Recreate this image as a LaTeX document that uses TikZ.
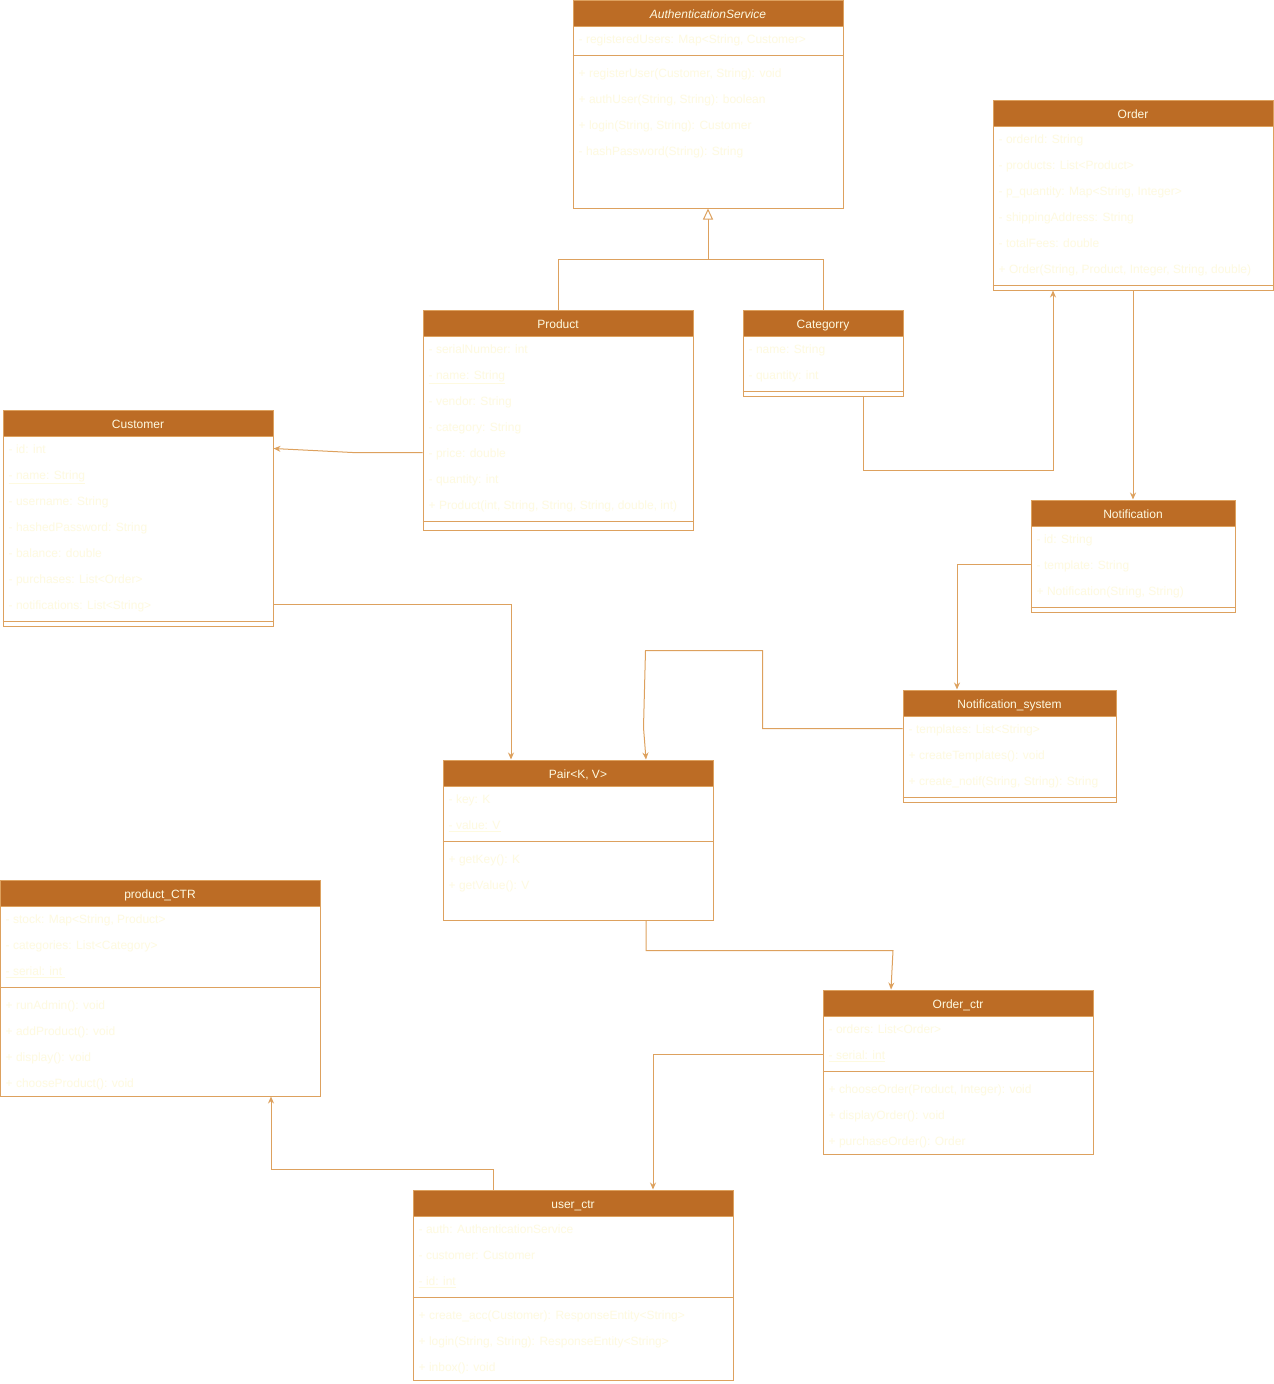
\documentclass[tikz,border=0pt]{standalone}
\usepackage{fontspec}
\setmainfont{Liberation Sans}
\usetikzlibrary{arrows.meta,positioning,calc}
\definecolor{umlhead}{HTML}{BC6C25}
\definecolor{umlline}{HTML}{DDA15E}
\definecolor{umltext}{HTML}{FEFAE0}

\begin{document}
\begin{tikzpicture}[x=1pt, y=-1pt,
    cls/.style={draw=umlline, fill=white, line width=1pt, inner sep=0pt},
    hdr/.style={draw=umlline, fill=umlhead, line width=1pt, minimum height=26pt, inner sep=0pt, anchor=north, text=umltext, text height=11pt, text depth=1pt, font=\fontsize{12}{14}\selectfont},
    row/.style={anchor=west, inner sep=0pt, text=umltext, text height=11pt, text depth=1pt, font=\fontsize{12}{14}\selectfont},
    sep/.style={draw=umlline, line width=1pt},
    arr/.style={draw=umlline, line width=1pt, -{Stealth[length=7pt,width=6pt]}},
    gen/.style={draw=umlline, line width=1pt, -{Triangle[open,length=11pt,width=10pt,fill=white]}}
]
\useasboundingbox (0,0) rectangle (1274,1384);

% AuthenticationService
\node[cls, minimum width=270pt, minimum height=208pt] (auth) at (708,104) {};
\node[hdr, minimum width=270pt] (auth-h) at (auth.north) {\textit{AuthenticationService}};
\node[row] (auth-1) at ([xshift=6pt,yshift=-39pt]auth.north west) {- registeredUsers: Map<String, Customer>};
\draw[sep] ([yshift=-56pt]auth.north west) -- ([yshift=-56pt]auth.north east);
\foreach \t [count=\i] in {{+ registerUser(Customer, String): void},{+ authUser(String, String): boolean},{+ login(String, String): Customer},{- hashPassword(String): String}}
  \node[row] (auth-m\i) at ([xshift=6pt,yshift=-47pt-\i*26pt]auth.north west) {\t};

% Order
\node[cls, minimum width=280pt, minimum height=190pt] (ord) at (1133,195) {};
\node[hdr, minimum width=280pt] (ord-h) at (ord.north) {Order};
\foreach \t [count=\i] in {{- orderId: String},{- products: List<Product>},{- p\_quantity: Map<String, Integer>},{- shippingAddress: String},{- totalFees: double},{+ Order(String, Product, Integer, String, double)}}
  \node[row] (ord-\i) at ([xshift=6pt,yshift=-13pt-\i*26pt]ord.north west) {\t};
\draw[sep] ([yshift=-186pt]ord.north west) -- ([yshift=-186pt]ord.north east);

% Product
\node[cls, minimum width=270pt, minimum height=220pt] (prod) at (558,420) {};
\node[hdr, minimum width=270pt] (prod-h) at (prod.north) {Product};
\foreach \t [count=\i] in {{- serialNumber: int},{\underline{- name: String}},{- vendor: String},{- category: String},{- price: double},{- quantity: int},{+ Product(int, String, String, String, double, int)}}
  \node[row] (prod-\i) at ([xshift=6pt,yshift=-13pt-\i*26pt]prod.north west) {\t};
\draw[sep] ([yshift=-212pt]prod.north west) -- ([yshift=-212pt]prod.north east);

% Categorry
\node[cls, minimum width=160pt, minimum height=86pt] (cat) at (823,353) {};
\node[hdr, minimum width=160pt] (cat-h) at (cat.north) {Categorry};
\foreach \t [count=\i] in {{- name: String},{- quantity: int}}
  \node[row] (cat-\i) at ([xshift=6pt,yshift=-13pt-\i*26pt]cat.north west) {\t};
\draw[sep] ([yshift=-82pt]cat.north west) -- ([yshift=-82pt]cat.north east);

% Customer
\node[cls, minimum width=270pt, minimum height=216pt] (cust) at (138,518) {};
\node[hdr, minimum width=270pt] (cust-h) at (cust.north) {Customer};
\foreach \t [count=\i] in {{- id: int},{\underline{- name: String}},{- username: String},{- hashedPassword: String},{- balance: double},{- purchases: List<Order>},{- notifications: List<String>}}
  \node[row] (cust-\i) at ([xshift=6pt,yshift=-13pt-\i*26pt]cust.north west) {\t};
\draw[sep] ([yshift=-212pt]cust.north west) -- ([yshift=-212pt]cust.north east);

% Notification
\node[cls, minimum width=204pt, minimum height=112pt] (notif) at (1133,556) {};
\node[hdr, minimum width=204pt] (notif-h) at (notif.north) {Notification};
\foreach \t [count=\i] in {{- id: String},{- template: String},{+ Notification(String, String)}}
  \node[row] (notif-\i) at ([xshift=6pt,yshift=-13pt-\i*26pt]notif.north west) {\t};
\draw[sep] ([yshift=-108pt]notif.north west) -- ([yshift=-108pt]notif.north east);

% Notification_system
\node[cls, minimum width=213pt, minimum height=112pt] (nsys) at (1009.5,746) {};
\node[hdr, minimum width=213pt] (nsys-h) at (nsys.north) {Notification\_system};
\foreach \t [count=\i] in {{- templates: List<String>},{+ createTemplates(): void},{+ create\_notif(String, String): String}}
  \node[row] (nsys-\i) at ([xshift=6pt,yshift=-13pt-\i*26pt]nsys.north west) {\t};
\draw[sep] ([yshift=-108pt]nsys.north west) -- ([yshift=-108pt]nsys.north east);

% Pair<K, V>
\node[cls, minimum width=270pt, minimum height=160pt] (pair) at (578,840) {};
\node[hdr, minimum width=270pt] (pair-h) at (pair.north) {Pair<K, V>};
\foreach \t [count=\i] in {{- key: K},{\underline{- value: V}}}
  \node[row] (pair-\i) at ([xshift=6pt,yshift=-13pt-\i*26pt]pair.north west) {\t};
\draw[sep] ([yshift=-82pt]pair.north west) -- ([yshift=-82pt]pair.north east);
\foreach \t [count=\i] in {{+ getKey(): K},{+ getValue(): V}}
  \node[row] (pair-m\i) at ([xshift=6pt,yshift=-73pt-\i*26pt]pair.north west) {\t};

% product_CTR
\node[cls, minimum width=320pt, minimum height=216pt] (pctr) at (160,988) {};
\node[hdr, minimum width=320pt] (pctr-h) at (pctr.north) {product\_CTR};
\foreach \t [count=\i] in {{- stock: Map<String, Product>},{- categories: List<Category>},{\underline{- serial: int\ }}}
  \node[row] (pctr-\i) at ([xshift=6pt,yshift=-13pt-\i*26pt]pctr.north west) {\t};
\draw[sep] ([yshift=-108pt]pctr.north west) -- ([yshift=-108pt]pctr.north east);
\foreach \t [count=\i] in {{+ runAdmin(): void},{+ addProduct(): void},{+ display(): void},{+ chooseProduct(): void}}
  \node[row] (pctr-m\i) at ([xshift=6pt,yshift=-99pt-\i*26pt]pctr.north west) {\t};

% Order_ctr
\node[cls, minimum width=270pt, minimum height=164pt] (octr) at (958,1072) {};
\node[hdr, minimum width=270pt] (octr-h) at (octr.north) {Order\_ctr};
\foreach \t [count=\i] in {{- orders: List<Order>},{\underline{- serial: int}}}
  \node[row] (octr-\i) at ([xshift=6pt,yshift=-13pt-\i*26pt]octr.north west) {\t};
\draw[sep] ([yshift=-82pt]octr.north west) -- ([yshift=-82pt]octr.north east);
\foreach \t [count=\i] in {{+ chooseOrder(Product, Integer): void},{+ displayOrder(): void},{+ purchaseOrder(): Order}}
  \node[row] (octr-m\i) at ([xshift=6pt,yshift=-73pt-\i*26pt]octr.north west) {\t};

% user_ctr
\node[cls, minimum width=320pt, minimum height=190pt] (uctr) at (573,1285) {};
\node[hdr, minimum width=320pt] (uctr-h) at (uctr.north) {user\_ctr};
\foreach \t [count=\i] in {{- auth: AuthenticationService},{- customer: Customer},{\underline{- id: int}}}
  \node[row] (uctr-\i) at ([xshift=6pt,yshift=-13pt-\i*26pt]uctr.north west) {\t};
\draw[sep] ([yshift=-108pt]uctr.north west) -- ([yshift=-108pt]uctr.north east);
\foreach \t [count=\i] in {{+ create\_acc(Customer): ResponseEntity<String>},{+ login(String, String): ResponseEntity<String>},{+ inbox(): void}}
  \node[row] (uctr-m\i) at ([xshift=6pt,yshift=-99pt-\i*26pt]uctr.north west) {\t};

% connectors
\coordinate (genjoin) at (708,259);
\draw[gen] (prod.north) |- (genjoin) -- (auth.south);
\draw[sep] (cat.north) |- (genjoin);
\draw[arr] (prod.west |- prod-5) -- ++(-70,0) -- (cust.east |- cust-1);
\draw[arr] ([xshift=40pt]cat.south) -- ++(0,74) -| ([xshift=-80pt]ord.south);
\draw[arr] (ord.south) -- (notif.north);
\draw[arr] (notif.west |- notif-2) -| ([xshift=-52.5pt]nsys.north);
\draw[arr] (nsys.west |- nsys-1) -- ++(-140,0) -- ++(0,-78) -- ++(-117,0) -- ++(-2,77) -- ([xshift=68pt]pair.north);
\draw[arr] (cust.east |- cust-7) -| ([xshift=-67pt]pair.north);
\draw[arr] ([xshift=68pt]pair.south) -- ++(0,30) -- ++(247,0) -- ([xshift=-67pt]octr.north);
\draw[arr] (octr.west |- octr-2) -| ([xshift=80pt]uctr.north);
\draw[arr] ([xshift=-80pt]uctr.north) -- ++(0,-20) -| ([xshift=111pt]pctr.south);
\end{tikzpicture}
\end{document}
